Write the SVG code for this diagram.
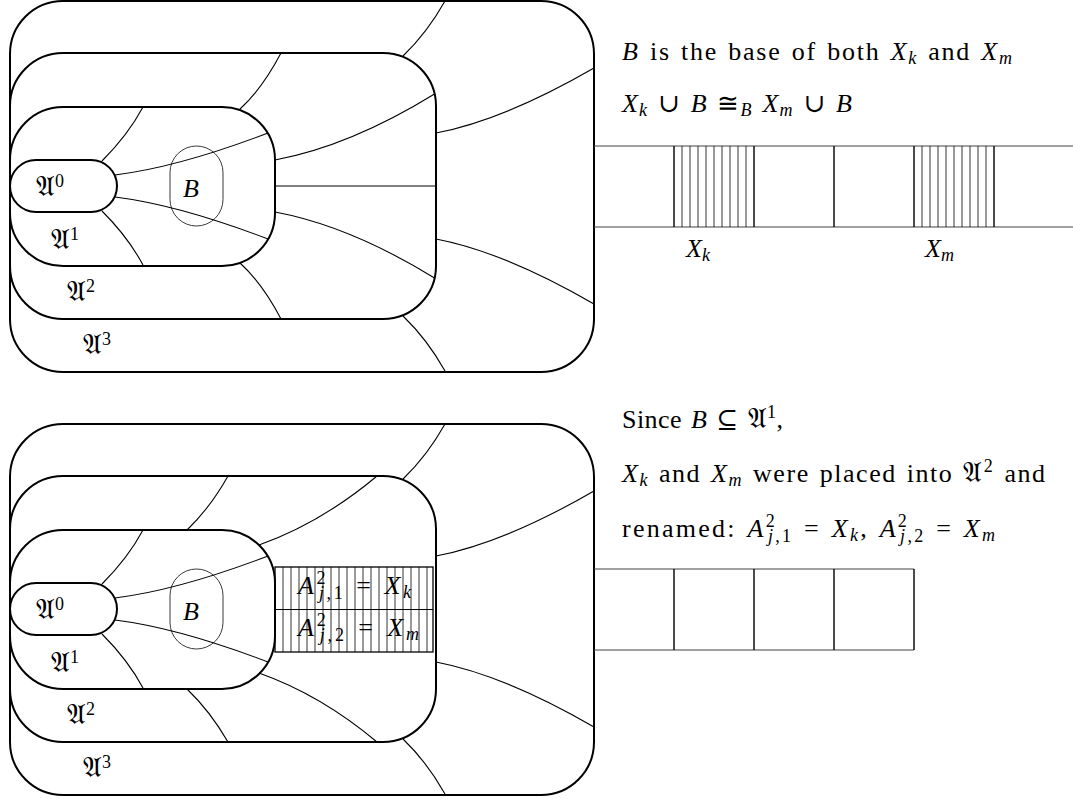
<svg xmlns="http://www.w3.org/2000/svg" width="1073" height="799" viewBox="0 0 1073 799">
<style>
.box{fill:none;stroke:#000;stroke-width:2}
.bb{fill:none;stroke:#222;stroke-width:0.9}
.c{fill:none;stroke:#000;stroke-width:1.1}
.cell{fill:none;stroke:#000;stroke-width:1.4}
.hl{fill:none;stroke:#444;stroke-width:1.1}
.h{stroke:#000;stroke-width:0.8}
.t{font-family:"Liberation Serif","DejaVu Serif",serif;font-size:26px;fill:#000;word-spacing:2px}
.i{font-style:italic}
.s{font-size:18px}
.f{font-family:"DejaVu Serif","DejaVu Sans","Noto Sans",serif;font-size:28px}
</style>
<defs>
<g id="hatch8">
<path class="h" d="M8,0V81M16,0V81M24,0V81M32,0V81M40,0V81M48,0V81M56,0V81M64,0V81M72,0V81"/>
</g>
</defs>

<!-- TOP DIAGRAM -->
<g id="top-diagram">
<g id="A3-top"><rect class="box" x="10" y="1" width="584" height="371" rx="53"/><text class="t" x="83" y="354"><tspan class="f">𝔄</tspan><tspan class="s" dy="-9">3</tspan></text></g>
<g id="A2-top"><rect class="box" x="10" y="53" width="426" height="266" rx="53"/><text class="t" x="67" y="301"><tspan class="f">𝔄</tspan><tspan class="s" dy="-9">2</tspan></text></g>
<g id="A1-top"><rect class="box" x="10" y="107" width="265" height="159" rx="53"/><text class="t" x="51" y="249"><tspan class="f">𝔄</tspan><tspan class="s" dy="-9">1</tspan></text></g>
<g id="A0-top"><rect class="box" x="10" y="160" width="107" height="52" rx="26"/><text class="t" x="36" y="196"><tspan class="f">𝔄</tspan><tspan class="s" dy="-9">0</tspan></text></g>
<g id="B-top"><rect class="bb" x="170" y="146" width="53" height="80" rx="26.5"/><text class="t i" x="183" y="197">B</text></g>
<g id="connectors-top">
<path class="c" d="M102,161 Q128,135 143,107"/>
<path class="c" d="M115,175 Q179,167 268,133"/>
<path class="c" d="M115,197 Q179,205 268,239"/>
<path class="c" d="M102,211 Q128,237 143,265"/>
<path class="c" d="M240,109 Q262,89 281,53"/>
<path class="c" d="M275,160 Q350,146 434.5,94"/>
<path class="c" d="M275,186 H436"/>
<path class="c" d="M275,212 Q350,226 434.5,278"/>
<path class="c" d="M240,263 Q262,283 281,319"/>
<path class="c" d="M403,56 Q427,33 445,1"/>
<path class="c" d="M436,133 Q504,120 594,68"/>
<path class="c" d="M436,239 Q504,252 594,304"/>
<path class="c" d="M403,316 Q427,339 445,371"/>
</g>
<g id="strip-top">
<path class="hl" d="M594,146H1073M594,227H1073"/>
<path class="cell" d="M674,146V227M754,146V227M834,146V227M914,146V227M994,146V227"/>
<use href="#hatch8" x="674" y="146"/>
<use href="#hatch8" x="914" y="146"/>
<text class="t" x="686" y="257"><tspan class="i">X</tspan><tspan class="i s" dy="4">k</tspan></text>
<text class="t" x="925" y="257"><tspan class="i">X</tspan><tspan class="i s" dy="4">m</tspan></text>
</g>
<g id="text-top">
<text class="t" x="622" y="60" textLength="390" lengthAdjust="spacing"><tspan class="i">B</tspan> is the base of both <tspan class="i">X</tspan><tspan class="i s" dy="4">k</tspan><tspan dy="-4"> and </tspan><tspan class="i">X</tspan><tspan class="i s" dy="4">m</tspan></text>
<text class="t" x="622" y="112" textLength="230" lengthAdjust="spacing"><tspan class="i">X</tspan><tspan class="i s" dy="4">k</tspan><tspan dy="-4"> ∪ </tspan><tspan class="i">B</tspan><tspan> ≅</tspan><tspan class="i s" dy="4">B</tspan><tspan dy="-4"> </tspan><tspan class="i">X</tspan><tspan class="i s" dy="4">m</tspan><tspan dy="-4"> ∪ </tspan><tspan class="i">B</tspan></text>
</g>
</g>

<!-- BOTTOM DIAGRAM -->
<g id="bottom-diagram">
<g id="A3-bot"><rect class="box" x="10" y="424" width="584" height="371" rx="53"/><text class="t" x="83" y="777"><tspan class="f">𝔄</tspan><tspan class="s" dy="-9">3</tspan></text></g>
<g id="A2-bot"><rect class="box" x="10" y="476" width="426" height="266" rx="53"/><text class="t" x="67" y="724"><tspan class="f">𝔄</tspan><tspan class="s" dy="-9">2</tspan></text></g>
<g id="A1-bot"><rect class="box" x="10" y="530" width="265" height="159" rx="53"/><text class="t" x="51" y="672"><tspan class="f">𝔄</tspan><tspan class="s" dy="-9">1</tspan></text></g>
<g id="A0-bot"><rect class="box" x="10" y="583" width="107" height="52" rx="26"/><text class="t" x="36" y="619"><tspan class="f">𝔄</tspan><tspan class="s" dy="-9">0</tspan></text></g>
<g id="B-bot"><rect class="bb" x="170" y="569" width="53" height="80" rx="26.5"/><text class="t i" x="183" y="620">B</text></g>
<g id="hatched-A2">
<rect x="275" y="567" width="158" height="85" fill="none" stroke="#000" stroke-width="1.3"/>
<path class="c" d="M275,609.5H433"/>
<path class="h" d="M283,567V652M291,567V652M299,567V652M307,567V652M315,567V652M323,567V652M331,567V652M339,567V652M347,567V652M355,567V652M363,567V652M371,567V652M379,567V652M387,567V652M395,567V652M403,567V652M411,567V652M419,567V652M427,567V652"/>
<text class="t" x="298" y="594" textLength="113" lengthAdjust="spacing"><tspan class="i">A</tspan><tspan class="s" dy="-10">2</tspan><tspan class="i s" dx="-9" dy="15">j</tspan><tspan class="s">,1</tspan><tspan dy="-5"> = </tspan><tspan class="i">X</tspan><tspan class="i s" dy="4">k</tspan></text>
<text class="t" x="298" y="636" textLength="121" lengthAdjust="spacing"><tspan class="i">A</tspan><tspan class="s" dy="-10">2</tspan><tspan class="i s" dx="-9" dy="15">j</tspan><tspan class="s">,2</tspan><tspan dy="-5"> = </tspan><tspan class="i">X</tspan><tspan class="i s" dy="4">m</tspan></text>
</g>
<g id="connectors-bot">
<path class="c" d="M102,584 Q128,558 143,530"/>
<path class="c" d="M115,598 Q179,590 268,556"/>
<path class="c" d="M115,620 Q179,628 268,662"/>
<path class="c" d="M102,634 Q128,660 143,688"/>
<path class="c" d="M187,530 Q210,508 228,476"/>
<path class="c" d="M259,545 Q321,523 377,476"/>
<path class="c" d="M259,673 Q321,695 377,742"/>
<path class="c" d="M187,689 Q210,711 228,742"/>
<path class="c" d="M403,479 Q427,456 445,424"/>
<path class="c" d="M436,556 Q504,543 594,491"/>
<path class="c" d="M436,662 Q504,675 594,727"/>
<path class="c" d="M403,739 Q427,762 445,794"/>
</g>
<g id="strip-bot">
<path class="hl" d="M594,569H914M594,650H914"/>
<path class="cell" d="M674,569V650M754,569V650M834,569V650M914,569V650"/>
</g>
<g id="text-bot">
<text class="t" x="622" y="428" textLength="161" lengthAdjust="spacing"><tspan>Since </tspan><tspan class="i">B</tspan><tspan> ⊆ </tspan><tspan class="f">𝔄</tspan><tspan class="s" dy="-10">1</tspan><tspan dy="10">,</tspan></text>
<text class="t" x="622" y="482" textLength="423" lengthAdjust="spacing"><tspan class="i">X</tspan><tspan class="i s" dy="4">k</tspan><tspan dy="-4"> and </tspan><tspan class="i">X</tspan><tspan class="i s" dy="4">m</tspan><tspan dy="-4"> were placed into </tspan><tspan class="f">𝔄</tspan><tspan class="s" dy="-10">2</tspan><tspan dy="10"> and</tspan></text>
<text class="t" x="622" y="537" textLength="373" lengthAdjust="spacing"><tspan>renamed: </tspan><tspan class="i">A</tspan><tspan class="s" dy="-10">2</tspan><tspan class="i s" dx="-9" dy="15">j</tspan><tspan class="s">,1</tspan><tspan dy="-5"> = </tspan><tspan class="i">X</tspan><tspan class="i s" dy="4">k</tspan><tspan dy="-4">, </tspan><tspan class="i">A</tspan><tspan class="s" dy="-10">2</tspan><tspan class="i s" dx="-9" dy="15">j</tspan><tspan class="s">,2</tspan><tspan dy="-5"> = </tspan><tspan class="i">X</tspan><tspan class="i s" dy="4">m</tspan></text>
</g>
</g>
</svg>
